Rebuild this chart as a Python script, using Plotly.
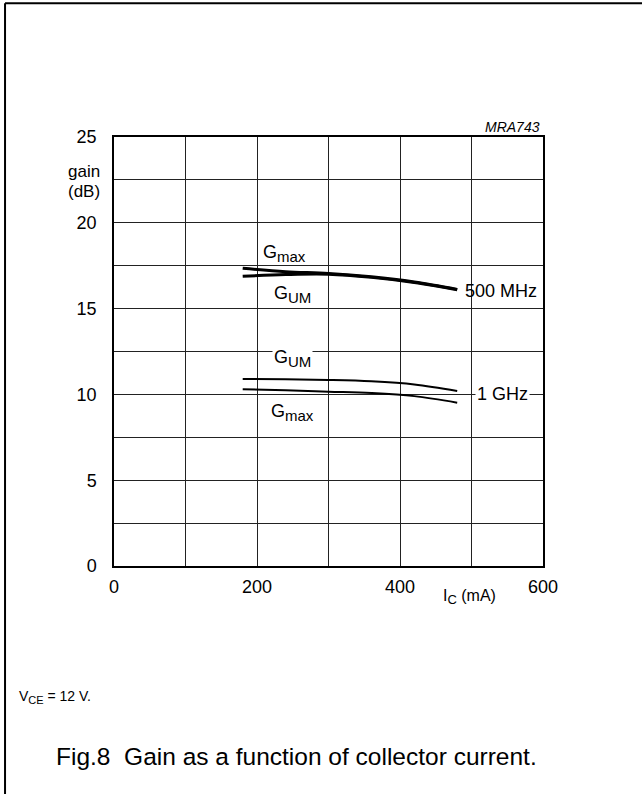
import plotly.graph_objects as go

# ---- data ----
ic = [180, 240, 300, 360, 420, 480]
gmax_500 = [17.35, 17.15, 17.05, 16.85, 16.55, 16.12]
gum_500 = [16.88, 16.98, 17.00, 16.82, 16.52, 16.10]
gum_1g = [10.90, 10.88, 10.84, 10.76, 10.58, 10.20]
gmax_1g = [10.30, 10.24, 10.16, 10.08, 9.90, 9.52]

x_ticks = [0, 100, 200, 300, 400, 500, 600]
x_labels = ["0", "", "200", "", "400", "", "600"]
y_ticks = [0, 2.5, 5, 7.5, 10, 12.5, 15, 17.5, 20, 22.5, 25]
y_labels = ["0", "", "5", "", "10", "", "15", "", "20", "", "25"]

FONT = "Liberation Sans, Arial, sans-serif"

fig = go.Figure()
for ys, w in [(gmax_500, 3), (gum_500, 3), (gum_1g, 2), (gmax_1g, 2)]:
    fig.add_trace(go.Scatter(x=ic, y=ys, mode="lines", line=dict(color="black", width=w, shape="spline"),
                             showlegend=False, hoverinfo="skip"))

def sub(base, s, px):
    return f"{base}<sub><span style='font-size:{px}px'>{s}</span></sub>"

ann = []
def a(text, x, y, xref="x", yref="y", size=17, xanchor="center", bg=None, italic=False):
    d = dict(text=text, x=x, y=y, xref=xref, yref=yref, showarrow=False, xanchor=xanchor, yanchor="middle",
             font=dict(family=FONT, size=size, color="black", style="italic" if italic else "normal"))
    if bg:
        d["bgcolor"] = bg
        d["borderpad"] = 1
    ann.append(d)

a(sub("G", "max", 15), 238, 18.2, size=18)
a(sub("G", "UM", 15), 250, 15.85, size=18)
a("500 MHz", 488, 16.03, xanchor="left", size=18)
a(sub("G", "UM", 15), 249, 12.1, size=18, bg="white")
a("1 GHz", 544, 10.0, size=18, bg="white")
a(sub("G", "max", 15), 250, 8.92, size=18)
a("gain", -0.028, 0.92, xref="paper", yref="paper", size=17, xanchor="right")
a("(dB)", -0.028, 0.874, xref="paper", yref="paper", size=17, xanchor="right")
a(sub("I", "C", 13) + " (mA)", 497, -0.072, yref="paper", size=16)
a("MRA743", 0.998, 1.024, xref="paper", yref="paper", size=14, xanchor="right", italic=True)
a(sub("V", "CE", 11) + " = 12 V.", -0.225, -0.305, xref="paper", yref="paper", size=14, xanchor="left")
a("Fig.8  Gain as a function of collector current.", -0.14, -0.443, xref="paper", yref="paper",
  size=24.5, xanchor="left")

shapes = [
    dict(type="line", xref="paper", yref="paper", x0=-0.254, x1=-0.254, y0=1.312, y1=-0.6,
         line=dict(color="black", width=2)),
    dict(type="line", xref="paper", yref="paper", x0=-0.254, x1=1.3, y0=1.312, y1=1.312,
         line=dict(color="black", width=2)),
]

fig.update_layout(
    width=642, height=794,
    margin=dict(l=114, r=99, t=137, b=228),
    paper_bgcolor="white", plot_bgcolor="white",
    font=dict(family=FONT, size=18, color="black"),
    annotations=ann, shapes=shapes,
    xaxis=dict(range=[0, 600], tickvals=x_ticks, ticktext=x_labels, showgrid=True, gridcolor="#222",
               gridwidth=1, showline=True, linecolor="black", linewidth=1.5, mirror=True, zeroline=False,
               ticks="", ticklabelstandoff=4, tickfont=dict(size=18)),
    yaxis=dict(range=[0, 25], tickvals=y_ticks, ticktext=y_labels, showgrid=True, gridcolor="#222",
               gridwidth=1, showline=True, linecolor="black", linewidth=1.5, mirror=True, zeroline=False,
               ticks="", ticklabelstandoff=12, tickfont=dict(size=18)),
)

fig.write_html("out.html", config={"displayModeBar": False},
               post_script="document.body.style.margin='0';document.body.style.overflow='hidden';")
